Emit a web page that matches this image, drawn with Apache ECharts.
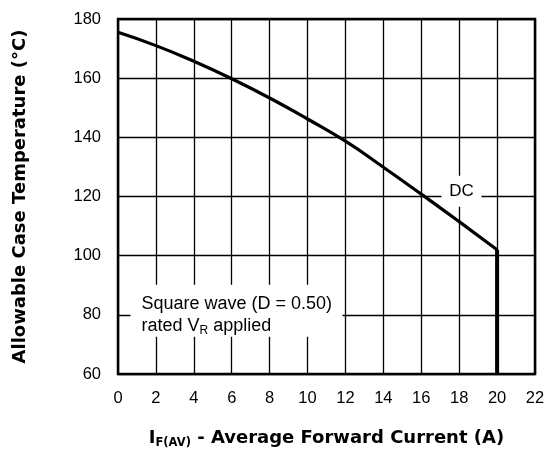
<!DOCTYPE html>
<html>
<head>
<meta charset="utf-8">
<script src="https://cdn.jsdelivr.net/npm/echarts@6/dist/echarts.min.js"></script>
<style>html,body{margin:0;padding:0;background:#fff}#c{width:545px;height:451px}</style>
</head>
<body>
<div id="c"></div>
<script>
// DC curve: average forward current (A) vs allowable case temperature (°C)
var currentA = [0, 2, 4, 6, 8, 10, 12, 14, 16, 18, 20];
var caseTempC = [175.5, 171.0, 165.7, 159.8, 153.3, 146.2, 138.7, 129.9, 120.8, 111.5, 102];
// vertical limit at rated current
var limitA = [20, 20];
var limitTempC = [102, 60];
var xTicks = [0, 2, 4, 6, 8, 10, 12, 14, 16, 18, 20, 22];
var yTicks = [60, 80, 100, 120, 140, 160, 180];
var dcLabel = { text: 'DC', at: [18.12, 121.8] };
var noteLabel = { at: [6.25, 81.4] };

var chart = echarts.init(document.getElementById('c'));
var font = 'Liberation Sans, Arial, Helvetica, sans-serif';
var boldFont = 'DejaVu Sans, Liberation Sans, Arial, sans-serif';
chart.setOption({
  animation: false,
  backgroundColor: '#fff',
  grid: { left: 118, right: 10, top: 19, bottom: 77, outerBoundsMode: 'none', containLabel: false, show: true, borderColor: '#000', borderWidth: 2.5, backgroundColor: 'transparent' },
  xAxis: {
    type: 'value', min: xTicks[0], max: xTicks[xTicks.length - 1], interval: 2,
    axisLine: { show: false }, axisTick: { show: false },
    axisLabel: { color: '#000', fontSize: 16.5, fontFamily: font, margin: 16 },
    splitLine: { show: true, lineStyle: { color: '#000', width: 1.3 } },
    name: '{b|I}{s|F(AV)}{b| - Average Forward Current (A)}',
    nameLocation: 'middle', nameGap: 53,
    nameTextStyle: {
      rich: {
        b: { fontSize: 18, fontWeight: 'bold', fontFamily: boldFont, color: '#000' },
        s: { fontSize: 11.5, fontWeight: 'bold', fontFamily: boldFont, color: '#000', verticalAlign: 'bottom', padding: [10, 0, 0, 0] }
      }
    }
  },
  yAxis: {
    type: 'value', min: yTicks[0], max: yTicks[yTicks.length - 1], interval: 20,
    axisLine: { show: false }, axisTick: { show: false },
    axisLabel: { color: '#000', fontSize: 16.5, fontFamily: font, margin: 17 },
    splitLine: { show: true, lineStyle: { color: '#000', width: 1.3 } },
    name: 'Allowable Case Temperature (°C)',
    nameLocation: 'middle', nameGap: 89,
    nameTextStyle: { fontSize: 18, fontWeight: 'bold', fontFamily: boldFont, color: '#000' }
  },
  series: [{
    type: 'line',
    data: currentA.map(function (x, i) { return [x, caseTempC[i]]; }),
    smooth: 0.5,
    symbol: 'none',
    lineStyle: { color: '#000', width: 3.2 },
    markPoint: {
      silent: true,
      data: [
        {
          coord: dcLabel.at, symbol: 'rect', symbolSize: [40, 31],
          itemStyle: { color: '#fff' },
          label: { show: true, position: 'inside', formatter: dcLabel.text, color: '#000', fontSize: 17, fontFamily: font }
        },
        {
          coord: noteLabel.at, symbol: 'rect', symbolSize: [212, 52],
          itemStyle: { color: '#fff' },
          label: {
            show: true, position: 'inside', align: 'left', offset: [-95, 4],
            formatter: '{t|Square wave (D = 0.50)}\n{t|rated V}{s|R}{t| applied}',
            lineHeight: 22,
            rich: {
              t: { fontSize: 18, fontFamily: font, color: '#000', lineHeight: 22 },
              s: { fontSize: 12, fontFamily: font, color: '#000', lineHeight: 22, padding: [9, 0, 0, 0] }
            }
          }
        }
      ]
    }
  }, {
    type: 'line',
    data: limitA.map(function (x, i) { return [x, limitTempC[i]]; }),
    symbol: 'none',
    lineStyle: { color: '#000', width: 4 }
  }]
});
</script>
</body>
</html>
